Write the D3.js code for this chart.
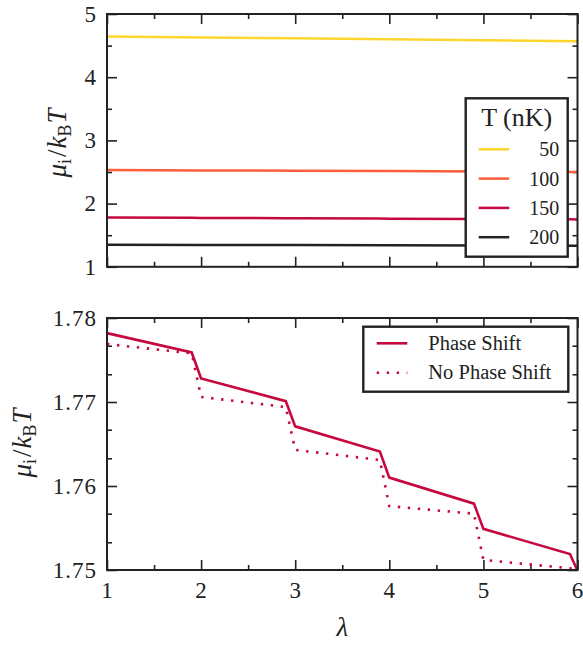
<!DOCTYPE html>
<html>
<head>
<meta charset="utf-8">
<script src="https://cdn.jsdelivr.net/npm/d3@7"></script>
<style>
    body { margin: 0; background: #fff; }
    text { font-family: "Liberation Serif", "DejaVu Serif", serif; fill: #222; }
</style>
</head>
<body>
<script>
//lambda values for the upper panel
const lambdaTop = [1, 2, 3, 4, 5, 6];

//chemical potential for each temperature (upper panel)
const mu50 = [4.645, 4.63, 4.615, 4.60, 4.585, 4.57];
const mu100 = [2.53, 2.525, 2.52, 2.514, 2.508, 2.50];
const mu200 = [1.35, 1.346, 1.343, 1.34, 1.337, 1.334];

//lower panel, T = 150 nK
const lambdaShift = [1, 1.9, 2.0, 2.9, 3.0, 3.9, 4.0, 4.9, 5.0, 5.92, 6];
const muShift = [1.7782, 1.7759, 1.7728, 1.7701, 1.7671, 1.7641, 1.7610, 1.7579, 1.7549, 1.7519, 1.7499];
const lambdaNoShift = [1, 1.9, 2.0, 2.9, 3.0, 3.9, 4.0, 4.9, 5.0, 5.92, 6];
const muNoShift = [1.7769, 1.7758, 1.7706, 1.7694, 1.7643, 1.7631, 1.7576, 1.7567, 1.7512, 1.7502, 1.7500];

//temperatures and tick labels
const temps = ["50", "100", "150", "200"];
const xTicks = [1, 2, 3, 4, 5, 6];
const yTicksTop = [1, 2, 3, 4, 5];
const yTicksBottom = [1.75, 1.76, 1.77, 1.78];
const legendBottom = ["Phase Shift", "No Phase Shift"];

function init() {
    var svg, xScale, yTop, yBottom, topPanel, bottomPanel, line, lineB, legend, legend2;

    //dimensions
    const margin = { top: 14, right: 5.5, left: 107 };
    const width = 583 - margin.left - margin.right;
    const panelHeight = 252.8;
    const lowerTop = 318;
    const serif = "'Liberation Serif', 'DejaVu Serif', serif";

    const colors = ["#fcd62f", "#ff5d3b", "#c5083e", "#222222"];

    svg = d3.select("body")
        .append("svg")
        .attr("width", 583)
        .attr("height", 645)
        .style("font-family", serif);

    //x scale shared by both panels
    xScale = d3.scaleLinear().domain([1, 6]).range([0, width]);
    yTop = d3.scaleLinear().domain([1, 5]).range([panelHeight, 0]);
    yBottom = d3.scaleLinear().domain([1.75, 1.78]).range([252, 0]);

    topPanel = svg.append("g").attr("transform", "translate(" + margin.left + "," + margin.top + ")");
    bottomPanel = svg.append("g").attr("transform", "translate(" + margin.left + "," + lowerTop + ")");

    //draws inward ticks on all four sides
    function drawTicks(g, h, y, yMajor, yMinor, xLabels, yFormat) {
        var xMinor = d3.range(1.5, 6, 1);

        g.append("g").attr("class", "tickLabels")
            .attr("transform", "translate(0," + h + ")")
            .call(d3.axisBottom(xScale).tickValues(xTicks).tickSize(-10).tickPadding(12)
                .tickFormat(xLabels ? d3.format("d") : ""));
        g.append("g").attr("transform", "translate(0," + h + ")")
            .call(d3.axisBottom(xScale).tickValues(xMinor).tickSize(-5).tickFormat(""));
        g.append("g")
            .call(d3.axisTop(xScale).tickValues(xTicks).tickSize(-10).tickFormat(""));
        g.append("g")
            .call(d3.axisTop(xScale).tickValues(xMinor).tickSize(-5).tickFormat(""));

        g.append("g").attr("class", "tickLabels")
            .call(d3.axisLeft(y).tickValues(yMajor).tickSize(-10).tickPadding(10).tickFormat(yFormat));
        g.append("g")
            .call(d3.axisLeft(y).tickValues(yMinor).tickSize(-5).tickFormat(""));
        g.append("g").attr("transform", "translate(" + width + ",0)")
            .call(d3.axisRight(y).tickValues(yMajor).tickSize(-10).tickFormat(""));
        g.append("g").attr("transform", "translate(" + width + ",0)")
            .call(d3.axisRight(y).tickValues(yMinor).tickSize(-5).tickFormat(""));

        g.selectAll(".domain").remove();
        g.selectAll("g").attr("font-family", null);
        g.selectAll(".tick line").attr("stroke", "#222").attr("stroke-width", 1.6);
        g.selectAll(".tickLabels text")
            .style("font-family", serif)
            .style("font-size", "23px")
            .style("letter-spacing", "1px")
            .attr("fill", "#222");
    }

    drawTicks(topPanel, panelHeight, yTop, yTicksTop, d3.range(1.5, 5, 1), false, d3.format("d"));
    drawTicks(bottomPanel, 252, yBottom, yTicksBottom,
        [1.7533, 1.7567, 1.7633, 1.7667, 1.7733, 1.7767], true, d3.format(".2f"));

    //upper panel lines
    line = d3.line()
        .x(function (d) { return xScale(d[0]); })
        .y(function (d) { return yTop(d[1]); });

    [mu50, mu100, muShift, mu200].forEach(function (vals, i) {
        var xs = (vals === muShift) ? lambdaShift : lambdaTop;
        topPanel.append("path")
            .datum(vals.map(function (v, j) { return [xs[j], v]; }))
            .attr("d", line)
            .attr("fill", "none")
            .attr("stroke", colors[i])
            .attr("stroke-width", 2.5);
    });

    //lower panel lines
    lineB = d3.line()
        .x(function (d) { return xScale(d[0]); })
        .y(function (d) { return yBottom(d[1]); });

    bottomPanel.append("path")
        .datum(muNoShift.map(function (v, j) { return [lambdaNoShift[j], v]; }))
        .attr("d", lineB)
        .attr("fill", "none")
        .attr("stroke", colors[2])
        .attr("stroke-width", 2.6)
        .attr("stroke-dasharray", "2.4 7.6");

    bottomPanel.append("path")
        .datum(muShift.map(function (v, j) { return [lambdaShift[j], v]; }))
        .attr("d", lineB)
        .attr("fill", "none")
        .attr("stroke", colors[2])
        .attr("stroke-width", 2.6);

    //frames
    [[topPanel, panelHeight], [bottomPanel, 252]].forEach(function (p) {
        p[0].append("rect")
            .attr("width", width).attr("height", p[1])
            .attr("fill", "none").attr("stroke", "#222").attr("stroke-width", 2);
    });

    //upper legend
    legend = svg.append("g").attr("transform", "translate(465.7,98.3)");
    legend.append("rect")
        .attr("width", 102).attr("height", 158.4)
        .attr("fill", "#fff").attr("stroke", "#222").attr("stroke-width", 2.4);
    legend.append("text")
        .attr("x", 51).attr("y", 28).attr("text-anchor", "middle")
        .attr("font-size", 26)
        .text("T (nK)");
    temps.forEach(function (t, i) {
        var yy = 51 + i * 29.3;
        legend.append("line")
            .attr("x1", 13).attr("x2", 43.5).attr("y1", yy).attr("y2", yy)
            .attr("stroke", colors[i]).attr("stroke-width", 2.5);
        legend.append("text")
            .attr("x", 93.5).attr("y", yy + 7).attr("text-anchor", "end")
            .attr("font-size", 20)
            .text(t);
    });

    //lower legend
    legend2 = svg.append("g").attr("transform", "translate(363.3,326.7)");
    legend2.append("rect")
        .attr("width", 205).attr("height", 65)
        .attr("fill", "#fff").attr("stroke", "#222").attr("stroke-width", 2.4);
    legendBottom.forEach(function (t, i) {
        var yy = 16.6 + i * 29.4;
        legend2.append("line")
            .attr("x1", 13.4).attr("x2", 44).attr("y1", yy).attr("y2", yy)
            .attr("stroke", colors[2]).attr("stroke-width", 2.6)
            .attr("stroke-dasharray", i === 1 ? "2.4 7.6" : null);
        legend2.append("text")
            .attr("x", 65).attr("y", yy + 6.5)
            .attr("font-size", 20.5)
            .text(t);
    });

    //y axis labels
    function yLabel(cx, cy) {
        var t = svg.append("text")
            .attr("transform", "translate(" + cx + "," + cy + ") rotate(-90)")
            .attr("text-anchor", "middle")
            .attr("font-size", 27);
        t.append("tspan").attr("font-style", "italic").text("μ");
        t.append("tspan").attr("font-size", 18).attr("dy", 5).text("i");
        t.append("tspan").attr("dy", -5).attr("dx", 2).text("/");
        t.append("tspan").attr("font-style", "italic").attr("dx", 1).text("k");
        t.append("tspan").attr("font-size", 18).attr("dy", 5).text("B");
        t.append("tspan").attr("dy", -5).attr("dx", 1).attr("font-style", "italic").text("T");
    }
    yLabel(66, 143);
    yLabel(31, 443);

    //x axis label
    svg.append("text")
        .attr("x", margin.left + width / 2).attr("y", 636)
        .attr("text-anchor", "middle")
        .attr("font-size", 27).attr("font-style", "italic")
        .text("λ");
}

window.onload = init;
</script>
</body>
</html>
